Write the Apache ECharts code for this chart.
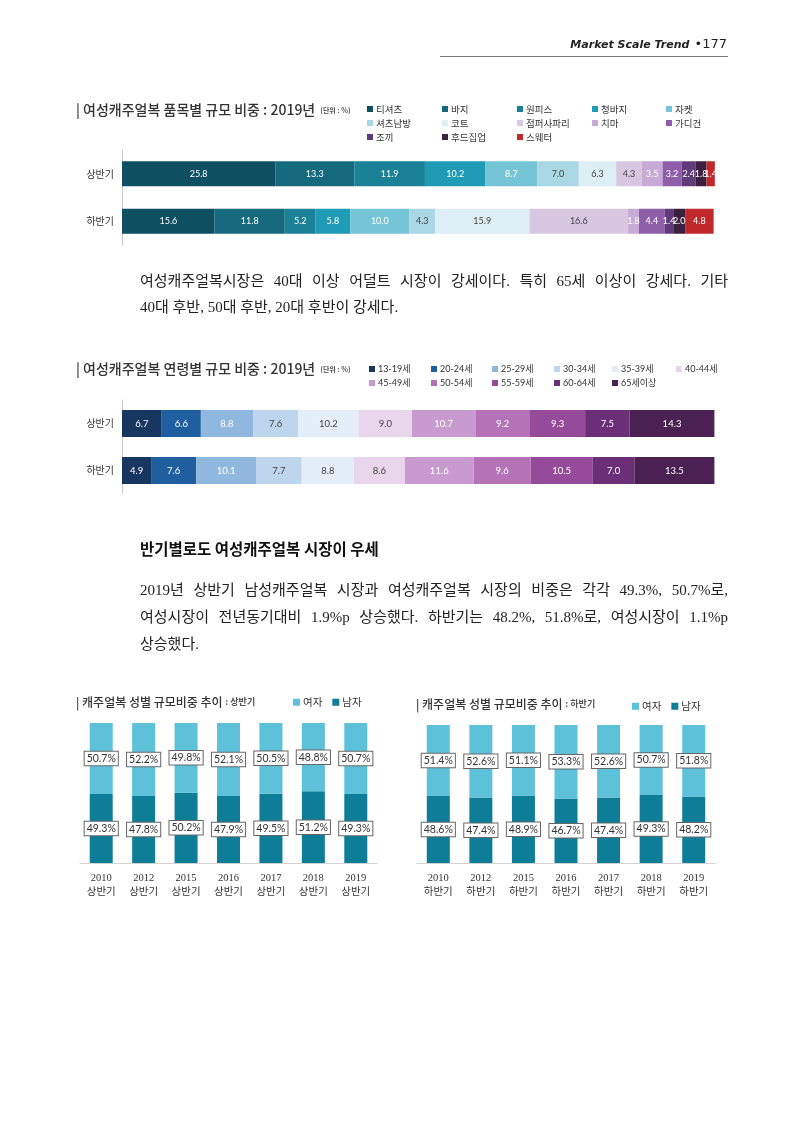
<!DOCTYPE html>
<html>
<head>
<meta charset="utf-8">
<script src="https://cdn.jsdelivr.net/npm/echarts@6/dist/echarts.min.js"></script>
<style>
  body { margin: 0; background: #fff; }
  #page { position: relative; width: 800px; height: 1131px; overflow: hidden; }
  #chart { position: absolute; left: 0; top: 0; width: 800px; height: 1131px; }
  .txt { position: absolute; left: 140px; width: 588px; font-family: 'Liberation Serif', 'Noto Sans CJK KR', serif; font-size: 15px; color: #222; z-index: 2; }
  .txt div { text-align: justify; text-align-last: justify; }
  .txt div.last { text-align-last: left; }
  #hdr { position: absolute; right: 73px; top: 33px; font-family: 'DejaVu Sans', sans-serif; color: #222; z-index: 2; }
  #hdrLine { position: absolute; left: 440px; top: 56px; width: 288px; border-top: 1px solid #777; }
  #heading { position: absolute; left: 140px; top: 537px; font-family: 'Noto Sans CJK KR', sans-serif; font-weight: bold; font-size: 15.5px; color: #111; line-height: 22px; z-index: 2; }
</style>
</head>
<body>
<div id="page">
  <div id="chart"></div>
  <div id="hdr"><span style="font-weight:bold;font-style:italic;font-size:11px">Market Scale Trend</span> <span style="font-size:13px">•177</span></div>
  <div id="hdrLine"></div>
  <div class="txt" style="top:268px;line-height:26px">
    <div>여성캐주얼복시장은 40대 이상 어덜트 시장이 강세이다. 특히 65세 이상이 강세다. 기타</div>
    <div class="last">40대 후반, 50대 후반, 20대 후반이 강세다.</div>
  </div>
  <div id="heading">반기별로도 여성캐주얼복 시장이 우세</div>
  <div class="txt" style="top:577px;line-height:27px">
    <div>2019년 상반기 남성캐주얼복 시장과 여성캐주얼복 시장의 비중은 각각 49.3%, 50.7%로,</div>
    <div>여성시장이 전년동기대비 1.9%p 상승했다. 하반기는 48.2%, 51.8%로, 여성시장이 1.1%p</div>
    <div class="last">상승했다.</div>
  </div>
</div>
<script>
const halfLabels = ['상반기', '하반기']

// 품목별 규모 비중 (단위 %)
const itemNames = ['티셔츠', '바지', '원피스', '청바지', '자켓', '셔츠남방', '코트', '점퍼사파리', '치마', '가디건', '조끼', '후드집업', '스웨터']
const itemFirstHalf = [25.8, 13.3, 11.9, 10.2, 8.7, 7.0, 6.3, 4.3, 3.5, 3.2, 2.4, 1.8, 1.4]
const itemSecondHalf = [15.6, 11.8, 5.2, 5.8, 10.0, 4.3, 15.9, 16.6, 1.8, 4.4, 1.4, 2.0, 4.8]

// 연령별 규모 비중 (단위 %)
const ageNames = ['13-19세', '20-24세', '25-29세', '30-34세', '35-39세', '40-44세', '45-49세', '50-54세', '55-59세', '60-64세', '65세이상']
const ageFirstHalf = [6.7, 6.6, 8.8, 7.6, 10.2, 9.0, 10.7, 9.2, 9.3, 7.5, 14.3]
const ageSecondHalf = [4.9, 7.6, 10.1, 7.7, 8.8, 8.6, 11.6, 9.6, 10.5, 7.0, 13.5]

// 성별 규모비중 추이
const years = ['2010', '2012', '2015', '2016', '2017', '2018', '2019']
const femaleFirst = [50.7, 52.2, 49.8, 52.1, 50.5, 48.8, 50.7]
const maleFirst = [49.3, 47.8, 50.2, 47.9, 49.5, 51.2, 49.3]
const femaleSecond = [51.4, 52.6, 51.1, 53.3, 52.6, 50.7, 51.8]
const maleSecond = [48.6, 47.4, 48.9, 46.7, 47.4, 49.3, 48.2]

const itemColors = ['#0e4f62', '#166a7e', '#1b8196', '#1f9bb6', '#76c5d7', '#a9d7e3', '#ddeff5', '#d7c7e0', '#c7aad6', '#8e5ea9', '#603b7a', '#3b213f', '#c0282c']
const itemDark = [5, 6, 7]
const ageColors = ['#173660', '#1f5f9f', '#90b8df', '#bdd6ee', '#e4eef8', '#ead6ec', '#c99ad0', '#b373b6', '#964b9a', '#6b2f77', '#4b2153']
const ageDark = [3, 4, 5]
const FEMALE = '#5cc1d9'
const MALE = '#0e7d98'

const font = "'Noto Sans CJK KR', sans-serif"
const numFont = "'Lato', 'Noto Sans CJK KR', sans-serif"

const chart = echarts.init(document.getElementById('chart'))

const hbarY = (grid) => ({
  type: 'category',
  gridIndex: grid,
  data: halfLabels,
  inverse: true,
  axisLine: { lineStyle: { color: '#c8c8c8' } },
  axisTick: { show: false },
  axisLabel: { fontSize: 10, color: '#333', margin: 8, fontFamily: font },
})

const genderX = (grid, half) => ({
  type: 'category',
  gridIndex: grid,
  data: years,
  axisLine: { lineStyle: { color: '#d3d3d3' } },
  axisTick: { show: false },
  axisLabel: {
    formatter: (v) => `${v}\n${half}`,
    fontSize: 10.5,
    lineHeight: 14,
    color: '#333',
    margin: 8,
    fontFamily: "'Liberation Serif', 'Noto Sans CJK KR', serif",
  },
})

const series = []

itemNames.forEach((name, i) => {
  series.push({
    name,
    type: 'bar',
    stack: 'item',
    xAxisIndex: 0,
    yAxisIndex: 0,
    barWidth: 25,
    data: [itemFirstHalf[i], itemSecondHalf[i]],
    itemStyle: { color: itemColors[i] },
    label: {
      show: true,
      position: 'inside',
      formatter: (p) => p.value.toFixed(1),
      fontSize: 9,
      fontFamily: numFont,
      color: itemDark.includes(i) ? '#444' : '#fff',
    },
  })
})

ageNames.forEach((name, i) => {
  series.push({
    name,
    type: 'bar',
    stack: 'age',
    xAxisIndex: 1,
    yAxisIndex: 1,
    barWidth: 27,
    data: [ageFirstHalf[i], ageSecondHalf[i]],
    itemStyle: { color: ageColors[i] },
    label: {
      show: true,
      position: 'inside',
      formatter: (p) => p.value.toFixed(1),
      fontSize: 9.5,
      fontFamily: numFont,
      color: ageDark.includes(i) ? '#444' : '#fff',
    },
  })
})

const boxLabel = {
  show: true,
  position: 'inside',
  formatter: (p) => `${p.value.toFixed(1)}%`,
  fontSize: 10.5,
  fontFamily: numFont,
  color: '#333',
  backgroundColor: '#fff',
  borderColor: '#666',
  borderWidth: 1,
  padding: [2, 2, 1, 2],
}

const genderSets = [
  [maleFirst, femaleFirst],
  [maleSecond, femaleSecond],
]
genderSets.forEach(([male, female], k) => {
  series.push({
    name: '남자', type: 'bar', stack: `gender${k}`, xAxisIndex: 2 + k, yAxisIndex: 2 + k,
    barWidth: 23, data: male, itemStyle: { color: MALE }, label: boxLabel,
  })
  series.push({
    name: '여자', type: 'bar', stack: `gender${k}`, xAxisIndex: 2 + k, yAxisIndex: 2 + k,
    barWidth: 23, data: female, itemStyle: { color: FEMALE }, label: boxLabel,
  })
})

const legends = []
const itemCols = [367, 442, 517, 592, 666]
itemCols.forEach((left, c) => {
  legends.push({
    orient: 'vertical',
    left,
    top: 104,
    padding: 0,
    itemWidth: 6,
    itemHeight: 6,
    itemGap: 4,
    icon: 'rect',
    data: itemNames.filter((_, i) => i % 5 === c),
    textStyle: { fontSize: 9.5, color: '#333', fontFamily: font, lineHeight: 10, padding: [0, 0, 0, -2] },
  })
})
const ageCols = [369, 431, 492, 554, 612, 676]
ageCols.forEach((left, c) => {
  legends.push({
    orient: 'vertical',
    left,
    top: 364,
    padding: 0,
    itemWidth: 6,
    itemHeight: 6,
    itemGap: 4,
    icon: 'rect',
    data: ageNames.filter((_, i) => i % 6 === c),
    textStyle: { fontSize: 9, color: '#333', fontFamily: numFont, lineHeight: 10, padding: [0, 0, 0, -2] },
  })
})
const genderLegendPos = [[293, 697], [632, 701]]
genderLegendPos.forEach(([left, top]) => {
  legends.push({
    left,
    top,
    padding: 0,
    itemWidth: 7,
    itemHeight: 7,
    itemGap: 10,
    icon: 'rect',
    data: ['여자', '남자'],
    textStyle: { fontSize: 10.5, color: '#333', fontFamily: font, padding: [0, 0, 0, -2] },
  })
})

const titleRich = (big, small) => ({
  a: { fontSize: big, color: '#333', fontWeight: 500, fontFamily: font },
  b: { fontSize: small, color: '#555', fontFamily: font },
})

const option = {
  animation: false,
  title: [
    {
      text: '{a|| 여성캐주얼복 품목별 규모 비중 : 2019년} {b|(단위 : %)}',
      left: 76, top: 101, padding: 0,
      textStyle: { rich: titleRich(14, 7) },
    },
    {
      text: '{a|| 여성캐주얼복 연령별 규모 비중 : 2019년} {b|(단위 : %)}',
      left: 76, top: 360, padding: 0,
      textStyle: { rich: titleRich(14, 7) },
    },
    {
      text: '{a|| 캐주얼복 성별 규모비중 추이 }{b|: 상반기}',
      left: 76, top: 696, padding: 0,
      textStyle: { rich: titleRich(12, 9) },
    },
    {
      text: '{a|| 캐주얼복 성별 규모비중 추이 }{b|: 하반기}',
      left: 416, top: 698, padding: 0,
      textStyle: { rich: titleRich(12, 9) },
    },
  ],
  legend: legends,
  grid: [
    { left: 122, top: 150, width: 594, height: 95 },
    { left: 122, top: 400, width: 593, height: 94 },
    { left: 80, top: 723, width: 297, height: 140 },
    { left: 417, top: 725, width: 298, height: 138 },
  ],
  xAxis: [
    { type: 'value', gridIndex: 0, min: 0, max: 100, show: false },
    { type: 'value', gridIndex: 1, min: 0, max: 100, show: false },
    genderX(2, '상반기'),
    genderX(3, '하반기'),
  ],
  yAxis: [
    hbarY(0),
    hbarY(1),
    { type: 'value', gridIndex: 2, min: 0, max: 100, show: false },
    { type: 'value', gridIndex: 3, min: 0, max: 100, show: false },
  ],
  series,
}

chart.setOption(option)
</script>
</body>
</html>
